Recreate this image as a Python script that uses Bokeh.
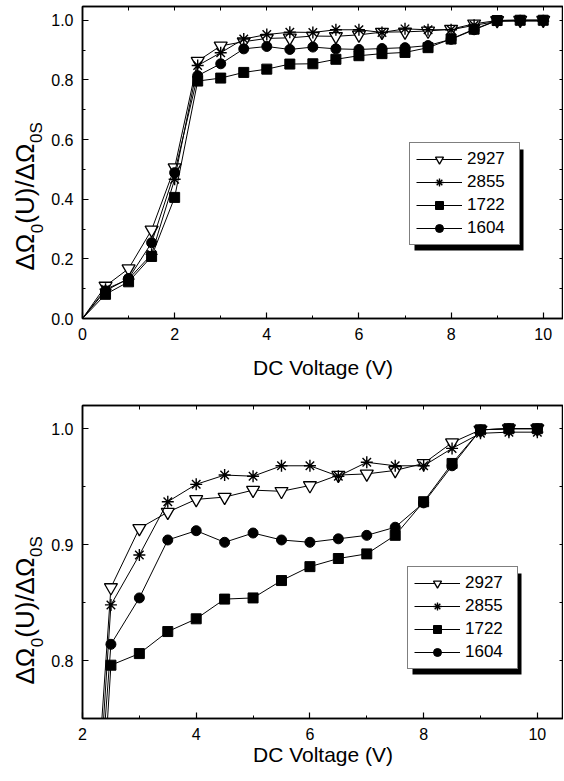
import math
from bokeh.plotting import figure
from bokeh.models import (Range1d, LinearAxis, FixedTicker, PrintfTickFormatter,
                          Legend, LegendItem, BoxAnnotation, ColumnDataSource,
                          CDSView, IndexFilter)
from bokeh.layouts import column, row
from bokeh.core.properties import value
from bokeh.embed import file_html
from bokeh.resources import INLINE

FONT = "Liberation Sans"

# ---------------- data ----------------
voltage = [0.0, 0.5, 1.0, 1.5, 2.0, 2.5, 3.0, 3.5, 4.0, 4.5, 5.0,
           5.5, 6.0, 6.5, 7.0, 7.5, 8.0, 8.5, 9.0, 9.5, 10.0]
s2927 = [0.0, 0.109, 0.167, 0.297, 0.506, 0.863, 0.914, 0.928, 0.939, 0.941, 0.947,
         0.946, 0.951, 0.960, 0.961, 0.964, 0.970, 0.988, 0.999, 1.000, 1.000]
s2855 = [0.0, 0.098, 0.132, 0.215, 0.467, 0.848, 0.891, 0.937, 0.952, 0.960, 0.959,
         0.968, 0.968, 0.959, 0.971, 0.968, 0.968, 0.983, 0.996, 0.997, 0.997]
s1722 = [0.0, 0.081, 0.123, 0.208, 0.406, 0.796, 0.806, 0.825, 0.836, 0.853, 0.854,
         0.869, 0.881, 0.888, 0.892, 0.908, 0.937, 0.970, 0.999, 1.000, 1.000]
s1604 = [0.0, 0.093, 0.134, 0.254, 0.489, 0.814, 0.854, 0.904, 0.912, 0.902, 0.910,
         0.904, 0.902, 0.905, 0.908, 0.915, 0.936, 0.968, 0.999, 1.000, 1.000]
series_names = ["2927", "2855", "1722", "1604"]

top_x_major = [0, 2, 4, 6, 8, 10]
top_x_minor = [1, 3, 5, 7, 9]
top_y_major = [0.0, 0.2, 0.4, 0.6, 0.8, 1.0]
top_y_minor = [0.1, 0.3, 0.5, 0.7, 0.9]
bot_x_major = [2, 4, 6, 8, 10]
bot_x_minor = [3, 5, 7, 9]
bot_y_major = [0.8, 0.9, 1.0]
bot_y_minor = [0.75, 0.85, 0.95]

x_title = "DC Voltage (V)"
# y title pieces: (text, is_subscript)
y_title_parts = [("ΔΩ", False), ("0", True), ("(U)/ΔΩ", False), ("0S", True)]

# ---------------- styles ----------------
styles = {
    "2927": dict(marker="inverted_triangle", size=13, fill_color="white",
                 line_color="black", line_width=1.3),
    "2855": dict(marker="asterisk", size=12, fill_color="black",
                 line_color="black", line_width=1.4),
    "1722": dict(marker="square", size=10, fill_color="black",
                 line_color="black", line_width=1),
    "1604": dict(marker="circle", size=10, fill_color="black",
                 line_color="black", line_width=1),
}

source = ColumnDataSource(data=dict(v=voltage, s2927=s2927, s2855=s2855,
                                    s1722=s1722, s1604=s1604))

TOTAL_W = 563
LABEL_W = 48       # width of the strip that carries the y title
MAIN_W = TOTAL_W - LABEL_W
FRAME_LEFT = 81
MAIN_PX, SUB_PX, SUB_DX = 26, 17, 12
BASE_X = 24


def style_axis(ax, major, minor, fmt):
    ax.ticker = FixedTicker(ticks=major, minor_ticks=minor)
    ax.formatter = PrintfTickFormatter(format=fmt)
    ax.major_tick_in = 6
    ax.major_tick_out = 0
    ax.minor_tick_in = 3
    ax.minor_tick_out = 0
    ax.axis_line_color = "black"
    ax.axis_line_width = 1.5
    ax.major_tick_line_color = "black"
    ax.minor_tick_line_color = "black"
    ax.major_tick_line_width = 1.2
    ax.minor_tick_line_width = 1
    ax.major_label_text_font = FONT
    ax.major_label_text_color = "black"
    ax.major_label_text_font_size = "16px"
    ax.major_label_standoff = 9


def add_frame_ticks(p, side, ticks):
    # ticks on the opposite sides of the box: minor ticks only, no labels
    ax = LinearAxis()
    ax.ticker = FixedTicker(ticks=[], minor_ticks=ticks)
    ax.minor_tick_in = 4
    ax.minor_tick_out = 0
    ax.major_tick_in = 0
    ax.major_tick_out = 0
    ax.axis_line_color = "black"
    ax.axis_line_width = 1.5
    ax.minor_tick_line_color = "black"
    ax.minor_tick_line_width = 1
    ax.major_label_standoff = 0
    p.add_layout(ax, side)


def make_ylabel_fig(height, frame_top, frame_bottom, y_start):
    # a narrow strip holding the rotated y title; its frame is aligned with the
    # neighbouring plot's frame, so its y range is given in pixels from the bottom
    q = figure(width=LABEL_W, height=height, output_backend="svg", toolbar_location=None,
               x_range=Range1d(0, LABEL_W),
               y_range=Range1d(height - frame_bottom, height - frame_top),
               min_border_left=0, min_border_right=0, min_border_top=0,
               min_border_bottom=0, background_fill_color="white",
               border_fill_color="white")
    q.axis.visible = False
    q.grid.visible = False
    q.outline_line_color = None
    em = {"ΔΩ": 0.668 + 0.768, "0": 0.556,
          "(U)/ΔΩ": 0.333 + 0.722 + 0.333 + 0.278 + 0.668 + 0.768,
          "0S": 0.556 + 0.667}
    xs, ys, texts, sizes = [], [], [], []
    y = y_start
    for text, is_sub in y_title_parts:
        px = SUB_PX if is_sub else MAIN_PX
        xs.append(BASE_X + (SUB_DX if is_sub else 0))
        ys.append(y)
        texts.append(text)
        sizes.append(f"{px}px")
        y += em[text] * px
    src = ColumnDataSource(data=dict(x=xs, y=ys, t=texts, fs=sizes))
    q.text(x="x", y="y", text="t", source=src, angle=math.pi / 2,
           text_font=value(FONT), text_font_size="fs", text_color="black",
           text_baseline="alphabetic", text_align="left")
    return q


def make_fig(height, xr, yr, min_top, min_bottom, xmaj, xmin, ymaj, ymin,
             legend_loc, xlabel_standoff):
    p = figure(width=MAIN_W, height=height, output_backend="svg", toolbar_location=None,
               x_range=Range1d(*xr), y_range=Range1d(*yr),
               min_border_left=FRAME_LEFT - LABEL_W, min_border_right=0,
               min_border_top=min_top, min_border_bottom=min_bottom,
               background_fill_color="white", border_fill_color="white")
    p.xgrid.visible = False
    p.ygrid.visible = False
    p.outline_line_color = "black"
    p.outline_line_width = 1.5

    style_axis(p.xaxis[0], xmaj, xmin, "%d")
    style_axis(p.yaxis[0], ymaj, ymin, "%.1f")
    p.xaxis[0].axis_label = x_title
    p.xaxis[0].axis_label_text_font = FONT
    p.xaxis[0].axis_label_text_font_size = "21px"
    p.xaxis[0].axis_label_text_font_style = "normal"
    p.xaxis[0].axis_label_text_color = "black"
    p.xaxis[0].axis_label_standoff = xlabel_standoff

    add_frame_ticks(p, "above", sorted(xmaj + xmin))
    add_frame_ticks(p, "right", sorted(ymaj + ymin))

    view = CDSView(filter=IndexFilter(list(range(1, len(voltage)))))
    items = []
    for name in series_names:
        st = styles[name]
        ln = p.line("v", "s" + name, source=source, line_color="black", line_width=1)
        sc = p.scatter("v", "s" + name, source=source, view=view, marker=st["marker"],
                       size=st["size"], fill_color=st["fill_color"],
                       line_color=st["line_color"], line_width=st["line_width"])
        items.append(LegendItem(label=name, renderers=[ln, sc]))

    lx, ly = legend_loc
    lw, lh = 109, 101
    shadow = BoxAnnotation(left=lx + 5, right=lx + lw + 5, bottom=ly - 5, top=ly + lh - 5,
                           left_units="screen", right_units="screen",
                           bottom_units="screen", top_units="screen",
                           fill_color="black", fill_alpha=1, line_color=None)
    p.add_layout(shadow)
    legend = Legend(items=items, location=(lx, ly), orientation="vertical",
                    label_text_font=FONT, label_text_font_size="17px",
                    label_text_color="black", glyph_width=46, glyph_height=20,
                    label_height=20, label_width=46, spacing=3, padding=6, margin=0,
                    label_standoff=5, border_line_color="black", border_line_width=1,
                    background_fill_color="white", background_fill_alpha=1)
    p.add_layout(legend, "center")
    return p


H1, H2 = 400, 379
# top: frame from y=6 to y=318; bottom: frame from y=405 to y=718 (page pixels)
T1_TOP, T1_BOT = 6, 318
T2_TOP, T2_BOT = 5, 318          # inside the second figure (starts at y=400)
p1 = make_fig(H1, (0, 10.44), (0, 1.046), T1_TOP, H1 - T1_BOT, top_x_major, top_x_minor,
              top_y_major, top_y_minor, (327, 73), 13)
p2 = make_fig(H2, (2, 10.46), (0.75, 1.02), T2_TOP, H2 - T2_BOT, bot_x_major, bot_x_minor,
              bot_y_major, bot_y_minor, (325, 49), 0)
q1 = make_ylabel_fig(H1, T1_TOP, T1_BOT, H1 - 270)
q2 = make_ylabel_fig(H2, T2_TOP, T2_BOT, H1 + H2 - 684)

layout = column(row(q1, p1, spacing=0), row(q2, p2, spacing=0), spacing=0)
open("out.html", "w").write(file_html(layout, INLINE))
